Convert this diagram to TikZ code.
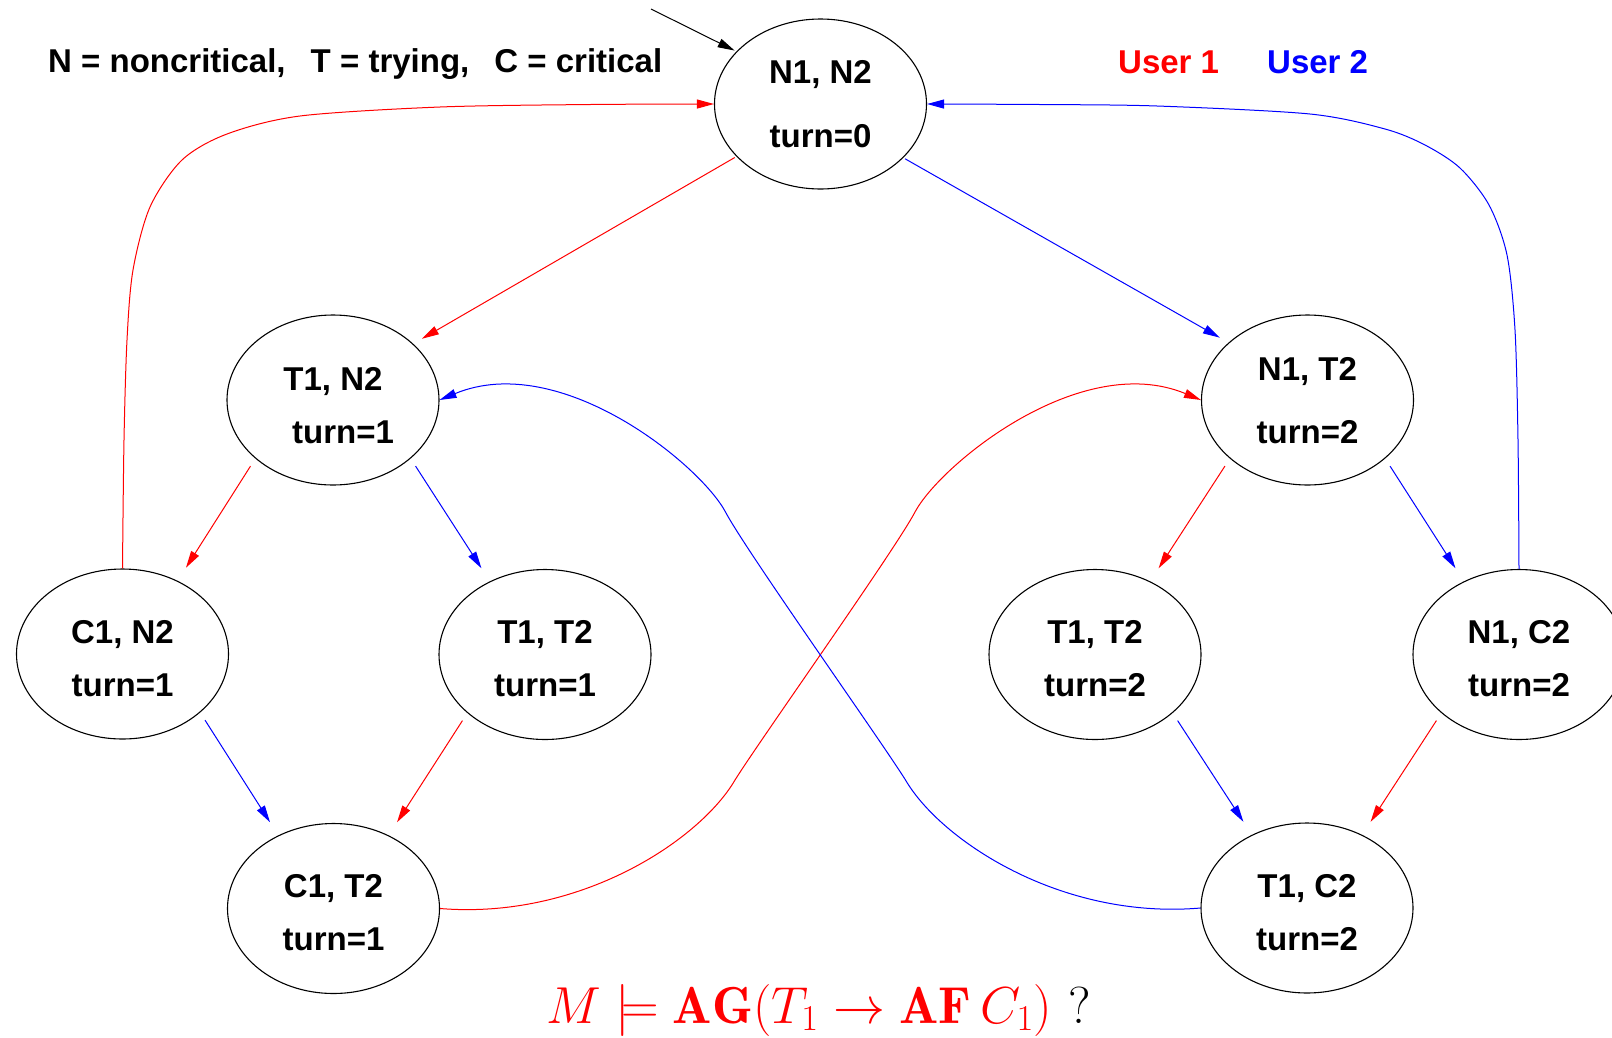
\RequirePackage{fix-cm}
\documentclass[tikz,border=0pt]{standalone}
\usepackage{fontspec}
\newfontfamily\lsans{Liberation Sans}
\usetikzlibrary{shapes.geometric,arrows.meta}
\begin{document}
\begin{tikzpicture}[x=1pt,y=-1pt,
  state/.style={ellipse,draw,line width=1.1pt,minimum width=212pt,minimum height=170pt,inner sep=0pt},
  lbl/.style={font=\lsans\bfseries\fontsize{33}{40}\selectfont,anchor=base,inner sep=0pt},
  legend/.style={font=\lsans\bfseries\fontsize{33}{40}\selectfont,anchor=base west,inner sep=0pt},
  tip/.style={-{Triangle[length=17pt,width=9pt]}},
  rarr/.style={tip,red,line width=1pt},
  barr/.style={tip,blue,line width=1pt},
  gap/.style={shorten <=9pt,shorten >=15.5pt}]
\useasboundingbox (0,0) rectangle (1612,1037);

% states
\node[state] (nn)  at (820.5,104) {};
\node[state] (tn)  at (333,400) {};
\node[state] (nt)  at (1307.5,400) {};
\node[state] (cn)  at (122.5,654) {};
\node[state] (tt1) at (545,654.5) {};
\node[state] (tt2) at (1095,654.5) {};
\node[state] (nc)  at (1519,654.5) {};
\node[state] (ct)  at (333.5,908.5) {};
\node[state] (tc)  at (1307,908) {};

% state labels
\node[lbl] (nn-a)  at ([yshift=21pt]nn.center) {N1, N2};
\node[lbl] (nn-b)  at ([yshift=-43pt]nn.center) {turn=0};
\node[lbl] (tn-a)  at ([yshift=10pt]tn.center) {T1, N2};
\node[lbl] (tn-b)  at ([xshift=10pt,yshift=-43pt]tn.center) {turn=1};
\node[lbl] (nt-a)  at ([yshift=20pt]nt.center) {N1, T2};
\node[lbl] (nt-b)  at ([yshift=-43pt]nt.center) {turn=2};
\node[lbl] (cn-a)  at ([yshift=11pt]cn.center) {C1, N2};
\node[lbl] (cn-b)  at ([yshift=-42pt]cn.center) {turn=1};
\node[lbl] (tt1-a) at ([yshift=11pt]tt1.center) {T1, T2};
\node[lbl] (tt1-b) at ([yshift=-42pt]tt1.center) {turn=1};
\node[lbl] (tt2-a) at ([yshift=11pt]tt2.center) {T1, T2};
\node[lbl] (tt2-b) at ([yshift=-42pt]tt2.center) {turn=2};
\node[lbl] (nc-a)  at ([yshift=11pt]nc.center) {N1, C2};
\node[lbl] (nc-b)  at ([yshift=-42pt]nc.center) {turn=2};
\node[lbl] (ct-a)  at ([yshift=11pt]ct.center) {C1, T2};
\node[lbl] (ct-b)  at ([yshift=-42pt]ct.center) {turn=1};
\node[lbl] (tc-a)  at ([yshift=11pt]tc.center) {T1, C2};
\node[lbl] (tc-b)  at ([yshift=-42pt]tc.center) {turn=2};

% legend
\node[legend] (key) at (48,72) {N = noncritical,\hspace{0.76em}T = trying,\hspace{0.76em}C = critical};
\node[legend,text=red]  (u1) at (1118,73) {User 1};
\node[legend,text=blue] (u2) at (1267,73) {User 2};

% initial state marker
\coordinate (init) at (651,9);
\draw[tip,black,line width=1pt,shorten >=2pt] (init) -- (nn.148);

% transitions from the initial state
\draw[rarr,shorten <=2pt,shorten >=10pt] (nn.212.3) -- (tn.35.9);
\draw[barr,shorten <=2pt,shorten >=10pt] (nn.327.7) -- (nt.144.1);

% second level
\draw[rarr,gap] (tn.217) -- (cn.53);
\draw[barr,gap] (tn.323) -- (tt1.127);
\draw[rarr,gap] (nt.217) -- (tt2.53);
\draw[barr,gap] (nt.323) -- (nc.127);

% third level
\draw[barr,gap] (cn.323) -- (ct.127);
\draw[rarr,gap] (tt1.217) -- (ct.53);
\draw[barr,gap] (tt2.323) -- (tc.127);
\draw[rarr,gap] (nc.217) -- (tc.53);

% returns to the initial state
\draw[rarr] plot[smooth] coordinates {(cn.north) (124,440) (127,340) (133,270)
  (150,207) (182,160) (227,134) (300,116) (440,107) (590,104.5) (nn.west)};
\draw[barr] plot[smooth] coordinates {(nc.north) (1518,440) (1515,330) (1507,255)
  (1489,205) (1460,168) (1425,145) (1385,129) (1310,114) (1157,106) (1040,104.5) (nn.east)};

% crossing transitions
\draw[rarr] (ct.east) .. controls (580,920) and (700,840) .. (735,780)
  .. controls (760,740) and (895,550) .. (915,512)
  .. controls (940,465) and (1080,350) .. (nt.west);
\draw[barr] (tc.west) .. controls (1060.5,920) and (940.5,840) .. (905.5,780)
  .. controls (880.5,740) and (745.5,550) .. (725.5,512)
  .. controls (700.5,465) and (560.5,350) .. (tn.east);

% property to check
\node[anchor=base west,inner sep=0pt,font=\fontsize{52}{62}\selectfont] (goal) at (546,1023)
  {{\color{red}$M \models \mathbf{AG}(T_1 \rightarrow \mathbf{AF}\,C_1)$}\hspace{0.32em}?};
\end{tikzpicture}
\end{document}
